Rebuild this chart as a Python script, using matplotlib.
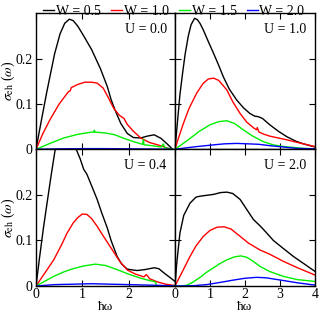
import matplotlib
matplotlib.use("Agg")
import matplotlib.pyplot as plt

plt.rcParams['font.family'] = ['Liberation Serif', 'DejaVu Serif']
plt.rcParams['mathtext.fontset'] = 'stix'

# ---- data ----
labels = ['W = 0.5', 'W = 1.0', 'W = 1.5', 'W = 2.0']
colors = ['black', '#ff0000', '#00ee00', '#0000ff']
panel_titles = ['U = 0.0', 'U = 1.0', 'U = 0.4', 'U = 2.0']

# U = 0.0
u00_w05_x = [0, 0.1, 0.23, 0.4, 0.52, 0.62, 0.72, 0.8, 0.9, 1.03, 1.2, 1.39, 1.54, 1.62, 1.7, 1.83, 1.97, 2.1, 2.26, 2.4, 2.55, 2.7, 2.85, 2.95]
u00_w05_y = [0, 0.055, 0.125, 0.21, 0.255, 0.278, 0.287, 0.284, 0.272, 0.25, 0.22, 0.178, 0.138, 0.11, 0.088, 0.057, 0.035, 0.026, 0.025, 0.029, 0.032, 0.024, 0.01, 0]
u00_w10_x = [0, 0.15, 0.3, 0.5, 0.7, 0.74, 0.76, 0.9, 1.05, 1.2, 1.32, 1.45, 1.54, 1.68, 1.8, 1.9, 1.97, 2.1, 2.26, 2.45, 2.62, 2.8, 2.92]
u00_w10_y = [0, 0.035, 0.065, 0.1, 0.127, 0.129, 0.136, 0.143, 0.148, 0.148, 0.146, 0.135, 0.118, 0.09, 0.075, 0.068, 0.055, 0.04, 0.025, 0.015, 0.01, 0.004, 0]
u00_w15_x = [0, 0.3, 0.6, 0.9, 1.2, 1.25, 1.26, 1.27, 1.5, 1.7, 1.9, 2.1, 2.3, 2.32, 2.33, 2.5, 2.7, 2.75, 2.77, 2.9, 2.95]
u00_w15_y = [0, 0.013, 0.025, 0.033, 0.038, 0.038, 0.042, 0.038, 0.036, 0.032, 0.024, 0.017, 0.011, 0.022, 0.01, 0.008, 0.005, 0.012, 0.004, 0.001, 0]
u00_w20_x = [0, 0.5, 1.0, 1.5, 2.0, 2.5, 2.95]
u00_w20_y = [0, 0.001, 0.0015, 0.0015, 0.001, 0.0005, 0]

# U = 1.0
u10_w05_x = [0, 0.07, 0.14, 0.22, 0.29, 0.38, 0.46, 0.56, 0.64, 0.72, 0.81, 0.95, 1.1, 1.25, 1.38, 1.55, 1.76, 1.95, 2.14, 2.28, 2.38, 2.5, 2.71, 2.95, 3.19, 3.45, 3.67, 4.0]
u10_w05_y = [0, 0.06, 0.12, 0.17, 0.21, 0.25, 0.275, 0.289, 0.286, 0.277, 0.263, 0.238, 0.212, 0.185, 0.16, 0.133, 0.109, 0.092, 0.079, 0.073, 0.072, 0.068, 0.054, 0.04, 0.028, 0.018, 0.012, 0.005]
u10_w10_x = [0, 0.1, 0.24, 0.4, 0.62, 0.8, 0.95, 1.1, 1.25, 1.48, 1.65, 1.86, 2.05, 2.25, 2.33, 2.35, 2.4, 2.55, 2.71, 2.95, 3.19, 3.45, 3.67, 4.0]
u10_w10_y = [0, 0.025, 0.057, 0.09, 0.124, 0.145, 0.155, 0.157, 0.152, 0.131, 0.105, 0.079, 0.06, 0.047, 0.043, 0.048, 0.038, 0.033, 0.029, 0.025, 0.021, 0.016, 0.012, 0.006]
u10_w15_x = [0, 0.2, 0.43, 0.7, 1.0, 1.25, 1.48, 1.7, 1.95, 2.2, 2.52, 2.8, 3.1, 3.4, 3.67, 4.0]
u10_w15_y = [0, 0.011, 0.024, 0.04, 0.054, 0.061, 0.063, 0.057, 0.043, 0.03, 0.017, 0.01, 0.006, 0.004, 0.002, 0.001]
u10_w20_x = [0, 0.3, 0.62, 1.0, 1.4, 1.76, 2.1, 2.4, 2.71, 3.1, 3.48, 4.0]
u10_w20_y = [0, 0.003, 0.006, 0.009, 0.012, 0.013, 0.012, 0.011, 0.008, 0.005, 0.002, 0.001]

# U = 0.4
u04_w05_x = [0, 0.08, 0.16, 0.25, 0.33, 0.41, 0.5, 0.65, 0.8, 0.88, 0.95, 1.03, 1.1, 1.2, 1.32, 1.42, 1.54, 1.62, 1.75, 1.85, 1.97, 2.1, 2.19, 2.35, 2.55, 2.65, 2.77, 2.9, 3.0]
u04_w05_y = [0, 0.065, 0.127, 0.19, 0.245, 0.297, 0.32, 0.33, 0.315, 0.297, 0.28, 0.256, 0.245, 0.22, 0.19, 0.16, 0.127, 0.1, 0.065, 0.048, 0.037, 0.035, 0.034, 0.036, 0.040, 0.038, 0.028, 0.018, 0.01]
u04_w10_x = [0, 0.2, 0.38, 0.55, 0.67, 0.8, 0.9, 1.0, 1.1, 1.2, 1.32, 1.45, 1.61, 1.8, 1.97, 2.15, 2.33, 2.38, 2.41, 2.45, 2.62, 2.8, 3.0]
u04_w10_y = [0, 0.03, 0.057, 0.09, 0.116, 0.138, 0.15, 0.158, 0.157, 0.148, 0.131, 0.11, 0.085, 0.055, 0.035, 0.026, 0.02, 0.025, 0.022, 0.016, 0.009, 0.004, 0.001]
u04_w15_x = [0, 0.2, 0.38, 0.6, 0.8, 1.03, 1.28, 1.5, 1.75, 2.0, 2.26, 2.45, 2.55, 2.58, 2.6, 3.0]
u04_w15_y = [0, 0.011, 0.021, 0.031, 0.038, 0.044, 0.048, 0.045, 0.036, 0.026, 0.017, 0.012, 0.01, 0.008, 0, 0]
u04_w20_x = [0, 0.4, 0.8, 1.2, 1.6, 2.0, 2.4, 2.8, 3.0]
u04_w20_y = [0, 0.003, 0.004, 0.005, 0.004, 0.003, 0.002, 0.001, 0]

# U = 2.0
u20_w05_x = [0, 0.05, 0.14, 0.25, 0.43, 0.6, 0.71, 0.9, 1.1, 1.3, 1.48, 1.65, 1.86, 2.05, 2.24, 2.43, 2.6, 2.81, 3.1, 3.38, 3.7, 4.0]
u20_w05_y = [0, 0.05, 0.116, 0.155, 0.182, 0.195, 0.197, 0.199, 0.201, 0.205, 0.206, 0.203, 0.19, 0.168, 0.146, 0.132, 0.118, 0.1, 0.082, 0.065, 0.048, 0.032]
u20_w10_x = [0, 0.2, 0.43, 0.6, 0.81, 1.0, 1.2, 1.4, 1.6, 1.86, 2.1, 2.43, 2.7, 3.1, 3.5, 4.0]
u20_w10_y = [0, 0.03, 0.065, 0.088, 0.109, 0.122, 0.129, 0.13, 0.125, 0.109, 0.094, 0.079, 0.07, 0.054, 0.04, 0.024]
u20_w15_x = [0, 0.2, 0.35, 0.5, 0.7, 0.9, 1.1, 1.3, 1.5, 1.7, 1.88, 2.05, 2.2, 2.43, 2.7, 3.1, 3.5, 4.0]
u20_w15_y = [0, 0.0, 0.002, 0.008, 0.018, 0.03, 0.04, 0.05, 0.058, 0.064, 0.066, 0.063, 0.056, 0.043, 0.032, 0.021, 0.014, 0.01]
u20_w20_x = [0, 0.5, 0.9, 1.3, 1.67, 2.0, 2.33, 2.6, 3.1, 3.5, 4.0]
u20_w20_y = [0, 0.0005, 0.003, 0.008, 0.013, 0.017, 0.019, 0.018, 0.012, 0.007, 0.002]

panels = [
    [(u00_w05_x, u00_w05_y), (u00_w10_x, u00_w10_y), (u00_w15_x, u00_w15_y), (u00_w20_x, u00_w20_y)],
    [(u10_w05_x, u10_w05_y), (u10_w10_x, u10_w10_y), (u10_w15_x, u10_w15_y), (u10_w20_x, u10_w20_y)],
    [(u04_w05_x, u04_w05_y), (u04_w10_x, u04_w10_y), (u04_w15_x, u04_w15_y), (u04_w20_x, u04_w20_y)],
    [(u20_w05_x, u20_w05_y), (u20_w10_x, u20_w10_y), (u20_w15_x, u20_w15_y), (u20_w20_x, u20_w20_y)],
]

fig = plt.figure(figsize=(3.19, 3.12), dpi=100)
W, H = 319.0, 312.0
# axes boxes in pixels: left, right, top, bottom
boxes = [(36, 175, 13.3, 149.3), (175, 315, 13.3, 149.3),
         (36, 175, 149.3, 286), (175, 315, 149.3, 286)]

axes = []
for i, (l, r, t, b) in enumerate(boxes):
    ax = fig.add_axes([l / W, 1 - b / H, (r - l) / W, (b - t) / H])
    axes.append(ax)
    xmax = 3 if i in (0, 2) else 4
    for (xs, ys), c, lab in zip(panels[i], colors, labels):
        ax.plot(xs, ys, color=c, lw=1.0, label=lab)
    ax.set_xlim(0, xmax)
    ax.set_ylim(0, 0.3)
    ax.set_xticks(range(0, xmax + 1))
    ax.set_yticks([0, 0.1, 0.2])
    ax.tick_params(direction='in', top=True, right=True, length=4, width=0.8,
                   labelsize=10, pad=2.5)
    ax.tick_params(axis='x', pad=1.5)
    for s in ax.spines.values():
        s.set_linewidth(1.0)
    ax.text(0.94, 0.93, panel_titles[i], transform=ax.transAxes,
            ha='right', va='top', fontsize=10)
    if i in (0, 1):
        ax.tick_params(labelbottom=False)
    if i in (1, 3):
        ax.tick_params(labelleft=False)
    if i in (0, 2):
        ax.set_yticklabels(['0', '0.1', '0.2'])
        ax.set_ylabel(r'$\sigma_{\rm eh}$ ($\omega$)', fontsize=10)
        ax.yaxis.set_label_coords(-(36 - 17) / 139, 0.5)
    if i == 2:
        ax.set_xticklabels(['0', '1', '2', ''])
    if i in (2, 3):
        ax.set_xlabel('ħω', fontsize=9.5, va='baseline')
        ax.xaxis.set_label_coords(0.5, -(309.5 - 286) / (286 - 149.3))

handles, labs = axes[0].get_legend_handles_labels()
fig.legend(handles, labs, loc='upper center', bbox_to_anchor=(0.545, 1.025), ncol=4,
           frameon=False, fontsize=10, handlelength=0.8, handletextpad=0.1,
           columnspacing=0.75)

fig.savefig('out.png', dpi=100)
